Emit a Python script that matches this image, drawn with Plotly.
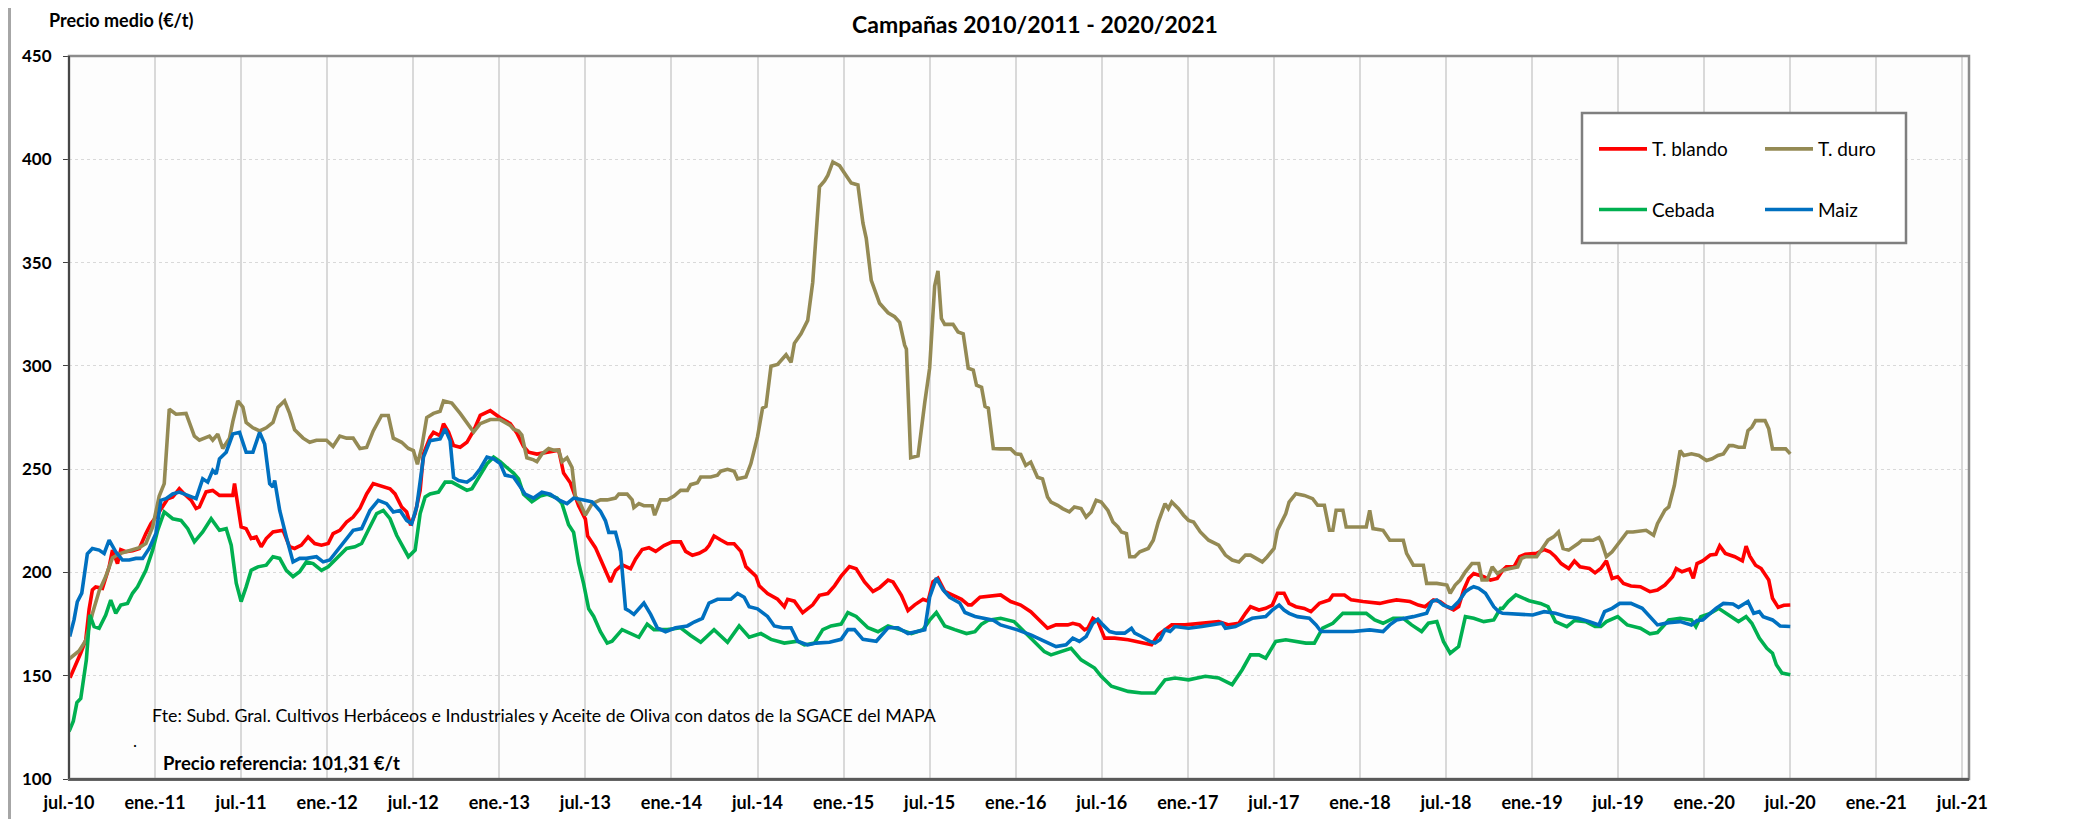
import plotly.graph_objects as go

# x values: months elapsed since July 2010
tick_labels = ["jul.-10", "ene.-11", "jul.-11", "ene.-12", "jul.-12", "ene.-13", "jul.-13", "ene.-14",
               "jul.-14", "ene.-15", "jul.-15", "ene.-16", "jul.-16", "ene.-17", "jul.-17", "ene.-18",
               "jul.-18", "ene.-19", "jul.-19", "ene.-20", "jul.-20", "ene.-21", "jul.-21"]
tick_months = [6 * i for i in range(len(tick_labels))]

blando_m = [0.07,0.47,0.82,1.17,1.40,1.63,1.86,2.33,2.80,3.03,3.26,3.38,3.61,3.96,4.43,4.90,5.36,5.71,6.06,6.53,6.88,7.23,7.69,8.04,8.51,8.86,9.09,9.56,10.02,10.49,10.96,11.42,11.54,11.77,12.0,12.35,12.70,13.05,13.40,13.75,14.22,14.92,15.38,15.73,16.20,16.67,17.13,17.60,18.07,18.41,18.88,19.35,19.81,20.28,20.75,21.21,21.91,22.38,22.73,23.19,23.54,23.82,24.13,24.48,24.71,25.17,25.41,25.87,26.11,26.46,26.81,27.27,27.74,28.21,28.67,29.37,29.84,
            30.06,30.76,31.22,31.69,32.04,32.62,33.32,34.14,34.48,34.95,35.53,36.0,36.16,36.70,37.05,37.40,37.75,38.10,38.56,39.15,39.50,39.96,40.43,40.90,41.48,42.06,42.64,42.99,43.46,43.93,44.39,44.62,44.97,45.44,45.91,46.37,46.84,47.19,47.89,48.12,48.70,49.40,49.87,50.10,50.57,51.15,51.85,52.32,52.90,53.37,53.83,54.41,54.88,55.46,56.05,56.51,57.10,57.45,58.03,58.49,58.96,59.54,59.89,60.23,60.58,61.05,61.86,62.22,62.69,62.92,63.51,64.09,
            64.95,65.65,66.35,67.05,67.75,68.22,68.81,69.63,69.98,70.44,70.80,71.03,71.38,71.73,72.20,72.90,73.84,74.77,75.47,75.94,76.41,76.88,77.81,78.98,80.15,80.85,81.56,82.02,82.37,82.96,83.43,83.89,84.25,84.71,85.06,85.53,86.12,86.58,87.17,87.87,88.11,88.92,89.39,90.21,91.38,91.96,92.55,93.49,94.07,94.54,95.12,95.59,96.06,96.53,96.88,97.23,97.58,97.93,98.28,98.63,99.10,99.57,
            99.95,100.21,100.74,101.13,101.53,102.32,102.84,103.24,103.63,104.03,104.55,104.95,105.34,106.0,106.39,106.79,107.18,107.58,107.97,108.37,108.89,109.55,110.21,110.74,111.26,111.79,112.05,112.45,112.97,113.24,113.5,113.89,114.42,114.82,115.08,115.47,116.13,116.66,116.92,117.18,117.58,117.97,118.5,118.76,119.16,119.55,120.0]
blando_v = [149,155.3,161,167.4,182,191.5,193,192.3,202.7,210.8,206.8,204.3,211,210,210.5,211.6,218.8,223.6,226.8,231.7,235.7,236.5,240.5,238,235,231,231.7,239,239.7,237.3,237.3,237.3,243,231.7,222,221.2,216.4,217.2,212.4,216.4,219.6,220.4,212.4,211.6,213.2,217.2,214,213.2,214,218.8,220.4,224.4,226.8,231,238,243,241.3,240.5,238,231.7,229.3,222.8,228.5,239.7,257.4,265.4,267.8,266.2,272,268,261.4,260.6,263,268.6,276,278.3,276,
            274.9,272.1,267.5,261,258.2,257.3,258.2,259.2,248.1,243.4,232.3,225.8,217.6,212,206.5,200.9,195.4,200.9,203.7,201.8,206.5,211.1,212,210.2,213,214.8,214.8,210.2,208.3,209.3,211.1,213,217.6,215.7,213.9,213.9,210.2,202.8,198.2,193.5,189.8,187,183.4,187,186.1,180.5,184.3,188.9,189.8,193.5,198.2,202.8,201.8,195.4,190.8,192.6,196.3,195.4,188.9,181.5,184.3,187,186.1,195.4,197.2,190.8,188,187,184.3,184.3,188,188.4,
            189.1,185.9,184.2,181,176.2,173,174.6,174.6,175.4,174.6,172.2,173,177.8,176.2,168.2,168.2,167.4,165.8,165,169.8,172.2,174.6,174.6,175.4,176.2,174.6,175.4,180.2,183.4,181.8,182.6,184.2,189.9,189.9,185,183.4,182.6,181,185,186.7,189.1,189.1,186.7,185.9,185,185.9,186.7,185.9,184.2,183.4,186.7,185.9,183.4,181.8,183.4,191.5,197.1,199.5,198.7,197.9,196.3,197.1,
            201.1,202.7,202.7,207.6,208.8,209.2,211.1,210,207.6,204.3,201.9,205.5,202.7,201.9,199.8,201.9,205.6,197.1,197.9,194.7,193.4,193.1,190.7,191.5,193.9,197.9,201.9,200.3,201.6,197.1,204.3,205.6,208.4,208.8,212.9,209.2,207.6,205.6,212.7,207.9,203.5,201.9,196.3,187.5,183.1,184.1,184.2]

duro_m = [0.0,0.70,1.17,1.63,2.10,2.56,3.03,3.50,3.96,4.90,5.36,5.83,6.29,6.64,6.99,7.46,8.16,8.39,8.74,9.09,9.79,10.02,10.37,10.72,11.19,11.42,11.77,12.12,12.35,12.82,13.29,13.75,14.22,14.57,15.03,15.38,15.73,16.32,16.78,17.25,17.95,18.41,18.88,19.35,19.81,20.28,20.75,21.21,21.79,22.26,22.61,23.19,23.66,24.01,24.29,24.59,24.94,25.41,25.87,26.11,26.69,27.27,28.21,28.67,29.37,
          30.06,30.76,30.99,31.34,31.57,31.92,32.39,32.62,32.97,33.44,33.79,34.14,34.37,34.72,35.07,35.30,35.65,36.0,36.47,37.05,37.52,38.10,38.33,38.91,39.26,39.38,39.73,40.08,40.66,40.83,41.24,41.71,42.18,42.64,43.11,43.34,43.81,44.04,44.74,45.21,45.44,45.91,46.37,46.61,47.19,47.54,48.0,48.35,48.59,48.94,49.40,49.99,50.34,50.57,51.03,51.50,51.85,52.08,52.32,52.67,52.90,53.25,53.72,54.07,54.53,55.0,55.35,55.58,55.93,56.51,57.10,57.56,57.91,58.26,58.38,58.68,59.19,59.66,60.0,60.35,60.58,60.82,61.05,61.63,61.98,62.34,62.69,63.04,63.27,63.62,63.86,64.09,64.44,
          64.95,65.65,66.0,66.35,66.70,67.05,67.52,67.87,68.22,68.46,68.92,69.27,69.74,70.09,70.56,70.91,71.26,71.61,71.96,72.43,72.78,73.13,73.37,73.72,73.95,74.30,74.65,75.24,75.59,75.94,76.41,76.64,76.88,77.35,77.70,78.05,78.40,78.87,79.45,80.15,80.62,81.09,81.56,82.02,82.37,82.73,83.19,83.54,84.01,84.25,84.83,85.06,85.53,86.12,86.70,87.05,87.52,87.87,88.11,88.34,88.81,89.04,89.74,90.44,90.68,90.91,91.61,92.08,93.02,93.25,93.72,94.42,94.65,95.36,96.06,96.29,96.64,96.99,97.35,97.81,98.28,98.51,98.87,99.22,99.57,
          99.95,100.47,101.0,101.26,101.53,102.32,102.71,103.11,103.5,103.84,104.16,104.55,105.21,105.47,106.26,106.66,106.84,107.18,107.58,108.11,108.63,109.03,109.95,110.47,110.74,111.26,111.53,111.92,112.32,112.58,113.11,113.63,114.16,114.55,114.95,115.34,115.74,116.0,116.39,116.79,117.05,117.32,117.58,118.24,118.5,118.76,119.68,120.0]
duro_v = [158,162,167,180,191,198,207,209,210,212,214,222,237,243,279,276.6,277,273,266,264,266,264,267,260,265,273,283,280,272.6,270,268.5,270,272.6,280,283,277,269,265,263,264,264,261,266,265,265,260,260.5,268.5,276,276,265,263,260,259,252.4,260.5,275,277,278,283,282,277,268,272,274,
          274,271.2,269.3,268.4,266.5,255.5,254.5,253.6,257.3,260,259.2,259.2,253.6,255.5,250.8,237,233.3,227.7,233.3,235.1,235.1,236,237.9,237.9,235.1,231.4,233.3,232.3,232.3,227.7,235.1,235.1,237,239.7,239.7,242.5,243.4,246.2,246.2,247.1,249,249.9,249,245.3,246.2,252.7,265.6,279.5,280.4,299.8,300.7,305.4,301.7,310.9,315.5,322,340.5,362.7,386.7,389.5,392.2,398.7,396.9,393.2,388.5,387.6,369.1,361.7,341.4,330.3,325.7,323.8,321.1,310,308.1,255.5,256.4,282.3,298.9,338.6,346,322.9,320.1,320.1,316.4,315.5,298.9,298,290.6,289.6,280.4,279.5,260,
          259.8,259.8,257.4,257.1,251.8,253.4,246.1,245.3,236.5,234.1,232.5,230.9,229.3,231.7,230.9,226.8,229.3,234.9,234.1,230,224.4,222,219.6,218.8,207.6,207.6,210,211.6,215.6,224.4,233.3,230.9,234.1,230.9,227.7,225.2,224.4,219.6,215.6,213.2,208.4,206,205.1,208.4,208.4,206.8,205.1,207.6,211.6,220.4,228.5,234.1,238.1,237.3,235.7,232.5,232.5,220.4,220.4,230.1,230.1,222,222,222,230.1,221.2,220.4,215.6,215.6,209.2,203.5,203.5,194.7,194.7,193.9,189.9,193.9,196.3,200.3,204.3,204.3,196.3,196.3,202.7,199.5,
          201.1,201.9,202.7,206.8,207.6,207.6,211.6,215.6,217.2,219.6,211.6,210.8,214,215.6,215.6,216.9,214.8,207.6,210,214.8,219.6,219.6,220.4,218,223.6,230.1,231.7,242.1,259,256.6,257.4,256.6,254.2,255,256.6,257.4,261.4,261.4,260.6,260.6,268.6,270.3,273.5,273.5,269.5,259.8,259.8,257.4]

cebada_m = [0.0,0.3,0.55,0.82,1.21,1.45,1.75,2.10,2.56,2.91,3.26,3.61,4.08,4.43,4.78,5.36,5.83,6.18,6.64,7.23,7.81,8.28,8.74,9.32,9.91,10.49,10.96,11.31,11.66,12.0,12.35,12.70,13.17,13.75,14.22,14.69,15.15,15.62,16.08,16.55,17.02,17.60,18.07,18.65,19.35,19.93,20.40,20.86,21.45,21.91,22.38,22.84,23.31,23.66,24.13,24.48,24.83,25.17,25.76,26.22,26.69,27.27,27.74,28.09,28.67,29.14,29.60,
            30.06,30.52,30.99,31.34,31.69,32.27,32.85,33.32,34.02,34.37,34.83,35.18,35.53,35.88,36.23,36.58,37.05,37.52,37.86,38.56,39.15,39.73,40.31,40.78,41.71,42.64,43.34,44.04,44.97,45.91,46.72,47.42,48.24,48.94,49.87,50.80,51.27,51.97,52.55,53.13,53.83,54.30,54.88,55.70,56.40,57.10,57.91,58.73,59.54,60.0,60.47,61.05,61.75,62.57,63.16,63.62,64.09,
            64.95,65.88,66.47,67.29,67.99,68.46,69.16,69.86,70.56,71.50,71.96,72.67,73.84,74.77,75.71,76.41,77.11,78.05,79.22,80.15,81.09,81.79,82.37,82.96,83.43,84.13,84.83,85.53,86.23,86.82,87.40,88.11,88.81,89.51,90.44,91.03,91.61,92.32,93.02,93.60,94.30,94.77,95.36,95.82,96.29,96.88,97.35,97.93,98.63,99.33,99.80,
            99.95,100.34,100.87,101.79,102.58,103.11,103.63,104.42,104.95,105.74,106.39,106.79,107.18,107.97,108.63,109.55,110.21,110.74,111.53,112.32,113.11,113.42,113.76,114.42,115.0,115.74,116.39,116.92,117.32,117.84,118.37,118.76,119.03,119.42,120.0]
cebada_v = [123,128,137,139,157.7,179.4,173.8,173,179.4,186.6,180.2,184.2,185,189.9,193,201,210.8,220.4,229.3,226,225.2,221.2,214.8,219.6,226,220.4,221.2,213.2,194.8,185.9,193,201,202.7,203.5,207.6,206.8,201,198,200.3,205.1,204.3,201,202.7,206.8,211.6,212.4,214,220.4,228.5,230,226,218,211.6,207.6,210.8,228.5,236.5,238,238.9,243.7,243.7,241.3,239.7,240.5,247,252.6,255.8,
            253.6,250.8,248.1,245.3,237.9,234.2,237,237.9,236,233.3,223.1,219.4,204.6,194.5,182.4,178.7,171.3,165.8,166.7,172.3,170.4,168.6,175,172.3,172.3,173.2,169.5,166.2,172.3,166.2,174.1,168.6,170.4,167.6,165.8,166.7,164.9,165.8,172.3,174.1,175,180.6,178.7,173.2,171.3,174.1,172.3,170.4,172.3,176.9,180.6,174.1,172.3,170.4,171.3,175,176.9,
            177.8,176.2,172.2,166.6,161.7,160.1,161.7,163.3,157.7,153.7,149.7,144.9,142.4,141.6,141.6,148,148.9,148,149.7,148.9,145.7,152.9,160.1,160.1,158.5,166.6,167.4,166.6,165.8,165.8,173,175.4,180.2,180.2,180.2,177,175.4,177.8,177.8,174.6,171.4,175.4,176.2,166.6,160.9,164.1,178.6,177.8,176.2,177,182.6,
            182.6,185.9,189.1,186.3,185,183.4,176.2,173.8,176.7,176.2,173.8,173.8,176.2,178.6,174.6,173,170.3,170.9,177,177.8,177,173.8,178.6,180.2,182.6,179.4,176.2,178.6,175.4,168.2,163.3,160.9,155.3,151.3,150.5]

maiz_m = [0.05,0.35,0.58,0.89,1.28,1.63,2.10,2.45,2.80,3.26,3.73,4.20,4.66,5.13,5.59,6.06,6.41,6.76,7.23,7.69,8.28,8.86,9.32,9.67,10.02,10.26,10.49,10.96,11.42,11.89,12.35,12.82,13.29,13.64,13.99,14.22,14.34,14.69,15.15,15.62,16.08,16.55,17.25,17.72,18.18,18.65,19.35,19.81,20.40,20.98,21.56,22.14,22.61,23.08,23.54,23.89,24.24,24.71,25.17,25.87,26.22,26.57,26.81,27.16,27.74,28.21,28.67,29.14,29.60,
          30.06,30.41,30.99,31.45,31.80,32.39,32.97,33.55,34.14,34.72,35.18,35.88,36.47,37.05,37.40,37.63,38.10,38.45,38.80,39.03,39.38,40.08,40.55,41.01,41.59,42.29,43.11,43.58,44.16,44.62,45.21,46.14,46.61,47.07,47.42,48.0,48.70,49.17,49.75,50.34,50.80,51.50,52.08,53.02,53.83,54.30,54.76,55.35,56.28,57.10,57.79,58.49,59.19,59.66,60.0,60.47,60.93,61.40,62.10,62.46,63.16,63.74,64.44,
          64.95,66.12,67.05,67.75,68.81,69.51,69.98,70.44,70.91,71.38,71.73,72.08,72.55,73.02,73.60,74.07,74.30,74.77,75.36,75.71,76.06,76.41,76.76,77.11,78.05,78.98,79.68,80.39,80.62,81.32,81.79,82.49,83.43,83.89,84.36,84.71,85.06,85.65,86.47,86.94,87.29,88.34,89.51,90.68,91.61,92.08,92.55,93.72,94.65,95.01,95.36,95.82,96.41,96.88,97.35,97.70,97.93,98.28,98.75,99.33,99.68,
          99.95,101.26,102.05,102.84,103.63,104.42,105.21,106.0,106.66,107.05,107.58,108.11,108.89,109.68,110.21,110.74,111.53,112.32,113.11,113.5,113.89,114.29,114.82,115.34,116.0,116.39,117.05,117.45,117.84,118.11,118.76,119.29,120.0]
maiz_v = [169,177,185.8,190,209,211.6,210.8,209.2,215.6,210,206,206,206.8,206.8,211.6,218.8,234.9,235.7,238,238.9,237.3,235.7,245.3,243.7,249.4,247.7,255,258.2,267,267.8,258.2,258.2,267.8,262.2,243,241.3,244.5,230,217.2,205.1,206.8,206.8,207.6,205.1,206,210,216.4,220.4,221.2,230,234.9,233.3,229.3,230,225.2,223.6,231.7,255.8,263.8,264.6,269.5,263.8,246,244.5,243.7,246,250.2,255.8,255,
          252.7,247.1,246.2,241.6,237.9,236,238.8,237.9,235.1,233.3,236,235.1,234.2,229.6,225,219.4,219.4,210.2,182.4,181.5,179.7,185.2,179.7,173.2,171.3,173.2,174.1,176,177.8,185.2,187,187,189.8,188,183.4,182.4,178.7,174.1,173.2,173.2,166.7,164.9,165.8,166.2,167.6,172.3,172.3,167.6,166.7,173.2,173.2,170.4,171.3,172.3,188,197.2,191.7,188,185.2,180.6,178.7,177.8,176.9,
          174.6,172.2,169.8,167.4,164.1,165,168.2,166.6,169,175.4,177.3,174.6,171.4,170.6,170.6,173,170.6,169,166.6,165.8,167.4,172.2,171.4,173.8,173,173.8,174.6,175.4,173,173.8,175.4,177.8,178.6,181.8,184.2,181.8,180.2,178.6,177.8,174.6,171.4,171.4,171.4,172.2,171.4,174.6,177,178.6,180.2,185.9,186.7,184.2,182.6,185.9,190.7,192.3,193.1,192.3,189.9,183.4,181,
          180.2,179.7,179.4,181,180.2,178.6,177.8,176.2,174.6,181,182.6,185,185,182.6,178.6,174.6,175.7,176.2,174.6,176.7,177,179.4,182.6,185,184.7,183.1,185.9,180.2,181,178.6,177,174.1,173.8]

series = [
    ("T. blando", blando_m, blando_v, "#FF0000", "legend", "g1"),
    ("T. duro", duro_m, duro_v, "#948A54", "legend2", "g2"),
    ("Cebada", cebada_m, cebada_v, "#00B050", "legend", "g3"),
    ("Maiz", maiz_m, maiz_v, "#0070C0", "legend2", "g4"),
]

FONT = "Lato"
fig = go.Figure()
for name, xs, ys, color, leg, grp in series:
    fig.add_trace(go.Scatter(x=xs, y=ys, mode="lines", name=name, legend=leg, legendgroup=grp,
                             line=dict(color=color, width=3.6), hoverinfo="x+y+name"))

# page body has an 8px margin; plot area in screen px: 69..1969 x 56..779
OFF = 8
SL, SR, ST, SB = 69, 1969, 56, 779
W, H = 2089 - OFF, 819 - OFF
L, T = SL - OFF, ST - OFF
R, B = W - (SR - OFF), H - (SB - OFF)
pw, ph = SR - SL, SB - ST

def px(xs):
    return (xs - SL) / pw

def py(ys):
    return (SB - ys) / ph

fig.update_layout(
    width=W, height=H,
    margin=dict(l=L, r=R, t=T, b=B, autoexpand=False),
    paper_bgcolor="white", plot_bgcolor="#FDFDFD",
    font=dict(family=FONT, color="black"),
    showlegend=True,
    xaxis=dict(range=[0, 132.46], tickmode="array", tickvals=tick_months, ticktext=tick_labels,
               showgrid=True, gridcolor="#D9D9D9", gridwidth=2, zeroline=False, automargin=False,
               showline=True, linecolor="#595959", linewidth=2, ticks="",
               tickfont=dict(size=18, family=FONT, weight="bold"), ticklabelstandoff=6),
    yaxis=dict(range=[100, 450], dtick=50, showgrid=True, gridcolor="#D9D9D9", gridwidth=1, griddash="dot",
               zeroline=False, showline=True, linecolor="black", linewidth=1, automargin=False,
               ticks="outside", ticklen=5, tickcolor="#404040", ticklabelstandoff=8,
               tickfont=dict(size=17, family=FONT, weight="bold")),
    legend=dict(x=px(1594), y=py(130), xanchor="left", yanchor="top", bgcolor="rgba(0,0,0,0)",
                font=dict(size=19, family=FONT), tracegroupgap=33, itemwidth=48),
    legend2=dict(x=px(1760), y=py(130), xanchor="left", yanchor="top", bgcolor="rgba(0,0,0,0)",
                 font=dict(size=19, family=FONT), tracegroupgap=33, itemwidth=48),
    shapes=[
        dict(type="rect", xref="paper", yref="paper", x0=0, x1=1, y0=0, y1=1,
             line=dict(color="#8C8C8C", width=2.5), layer="above"),
        dict(type="line", xref="paper", yref="paper", x0=0, x1=0, y0=0, y1=1,
             line=dict(color="black", width=1), layer="above"),
        dict(type="line", xref="paper", yref="paper", x0=0, x1=1, y0=0, y1=0,
             line=dict(color="#595959", width=2), layer="above"),
        dict(type="rect", xref="paper", yref="paper", x0=px(1582), x1=px(1906), y0=py(243), y1=py(113),
             line=dict(color="#7F7F7F", width=2.5), fillcolor="white", layer="above"),
        dict(type="line", xref="paper", yref="paper", x0=px(OFF + 1.5), x1=px(OFF + 1.5), y0=py(819), y1=py(OFF),
             line=dict(color="#A6A6A6", width=3), layer="above"),
    ],
    annotations=[
        dict(text="<b>Campañas 2010/2011 - 2020/2021</b>", xref="paper", yref="paper", x=px(1035), y=py(24),
             xanchor="center", yanchor="middle", showarrow=False, borderpad=0,
             font=dict(size=23, family=FONT)),
        dict(text="<b>Precio medio (€/t)</b>", xref="paper", yref="paper", x=px(47), y=py(20),
             xanchor="left", yanchor="middle", showarrow=False, font=dict(size=18, family=FONT)),
        dict(text="Fte: Subd. Gral. Cultivos Herbáceos e Industriales y Aceite de Oliva con datos de la SGACE del MAPA",
             xref="paper", yref="paper", x=px(150), y=py(715), xanchor="left", yanchor="middle",
             showarrow=False, font=dict(size=17.8, family=FONT)),
        dict(text=".", xref="paper", yref="paper", x=px(131), y=py(740), xanchor="left", yanchor="middle",
             showarrow=False, font=dict(size=17, family=FONT)),
        dict(text="<b>Precio referencia: 101,31 €/t</b>", xref="paper", yref="paper", x=px(161), y=py(763),
             xanchor="left", yanchor="middle", showarrow=False, font=dict(size=18.5, family=FONT)),
    ],
)

fig.write_html("out.html")
